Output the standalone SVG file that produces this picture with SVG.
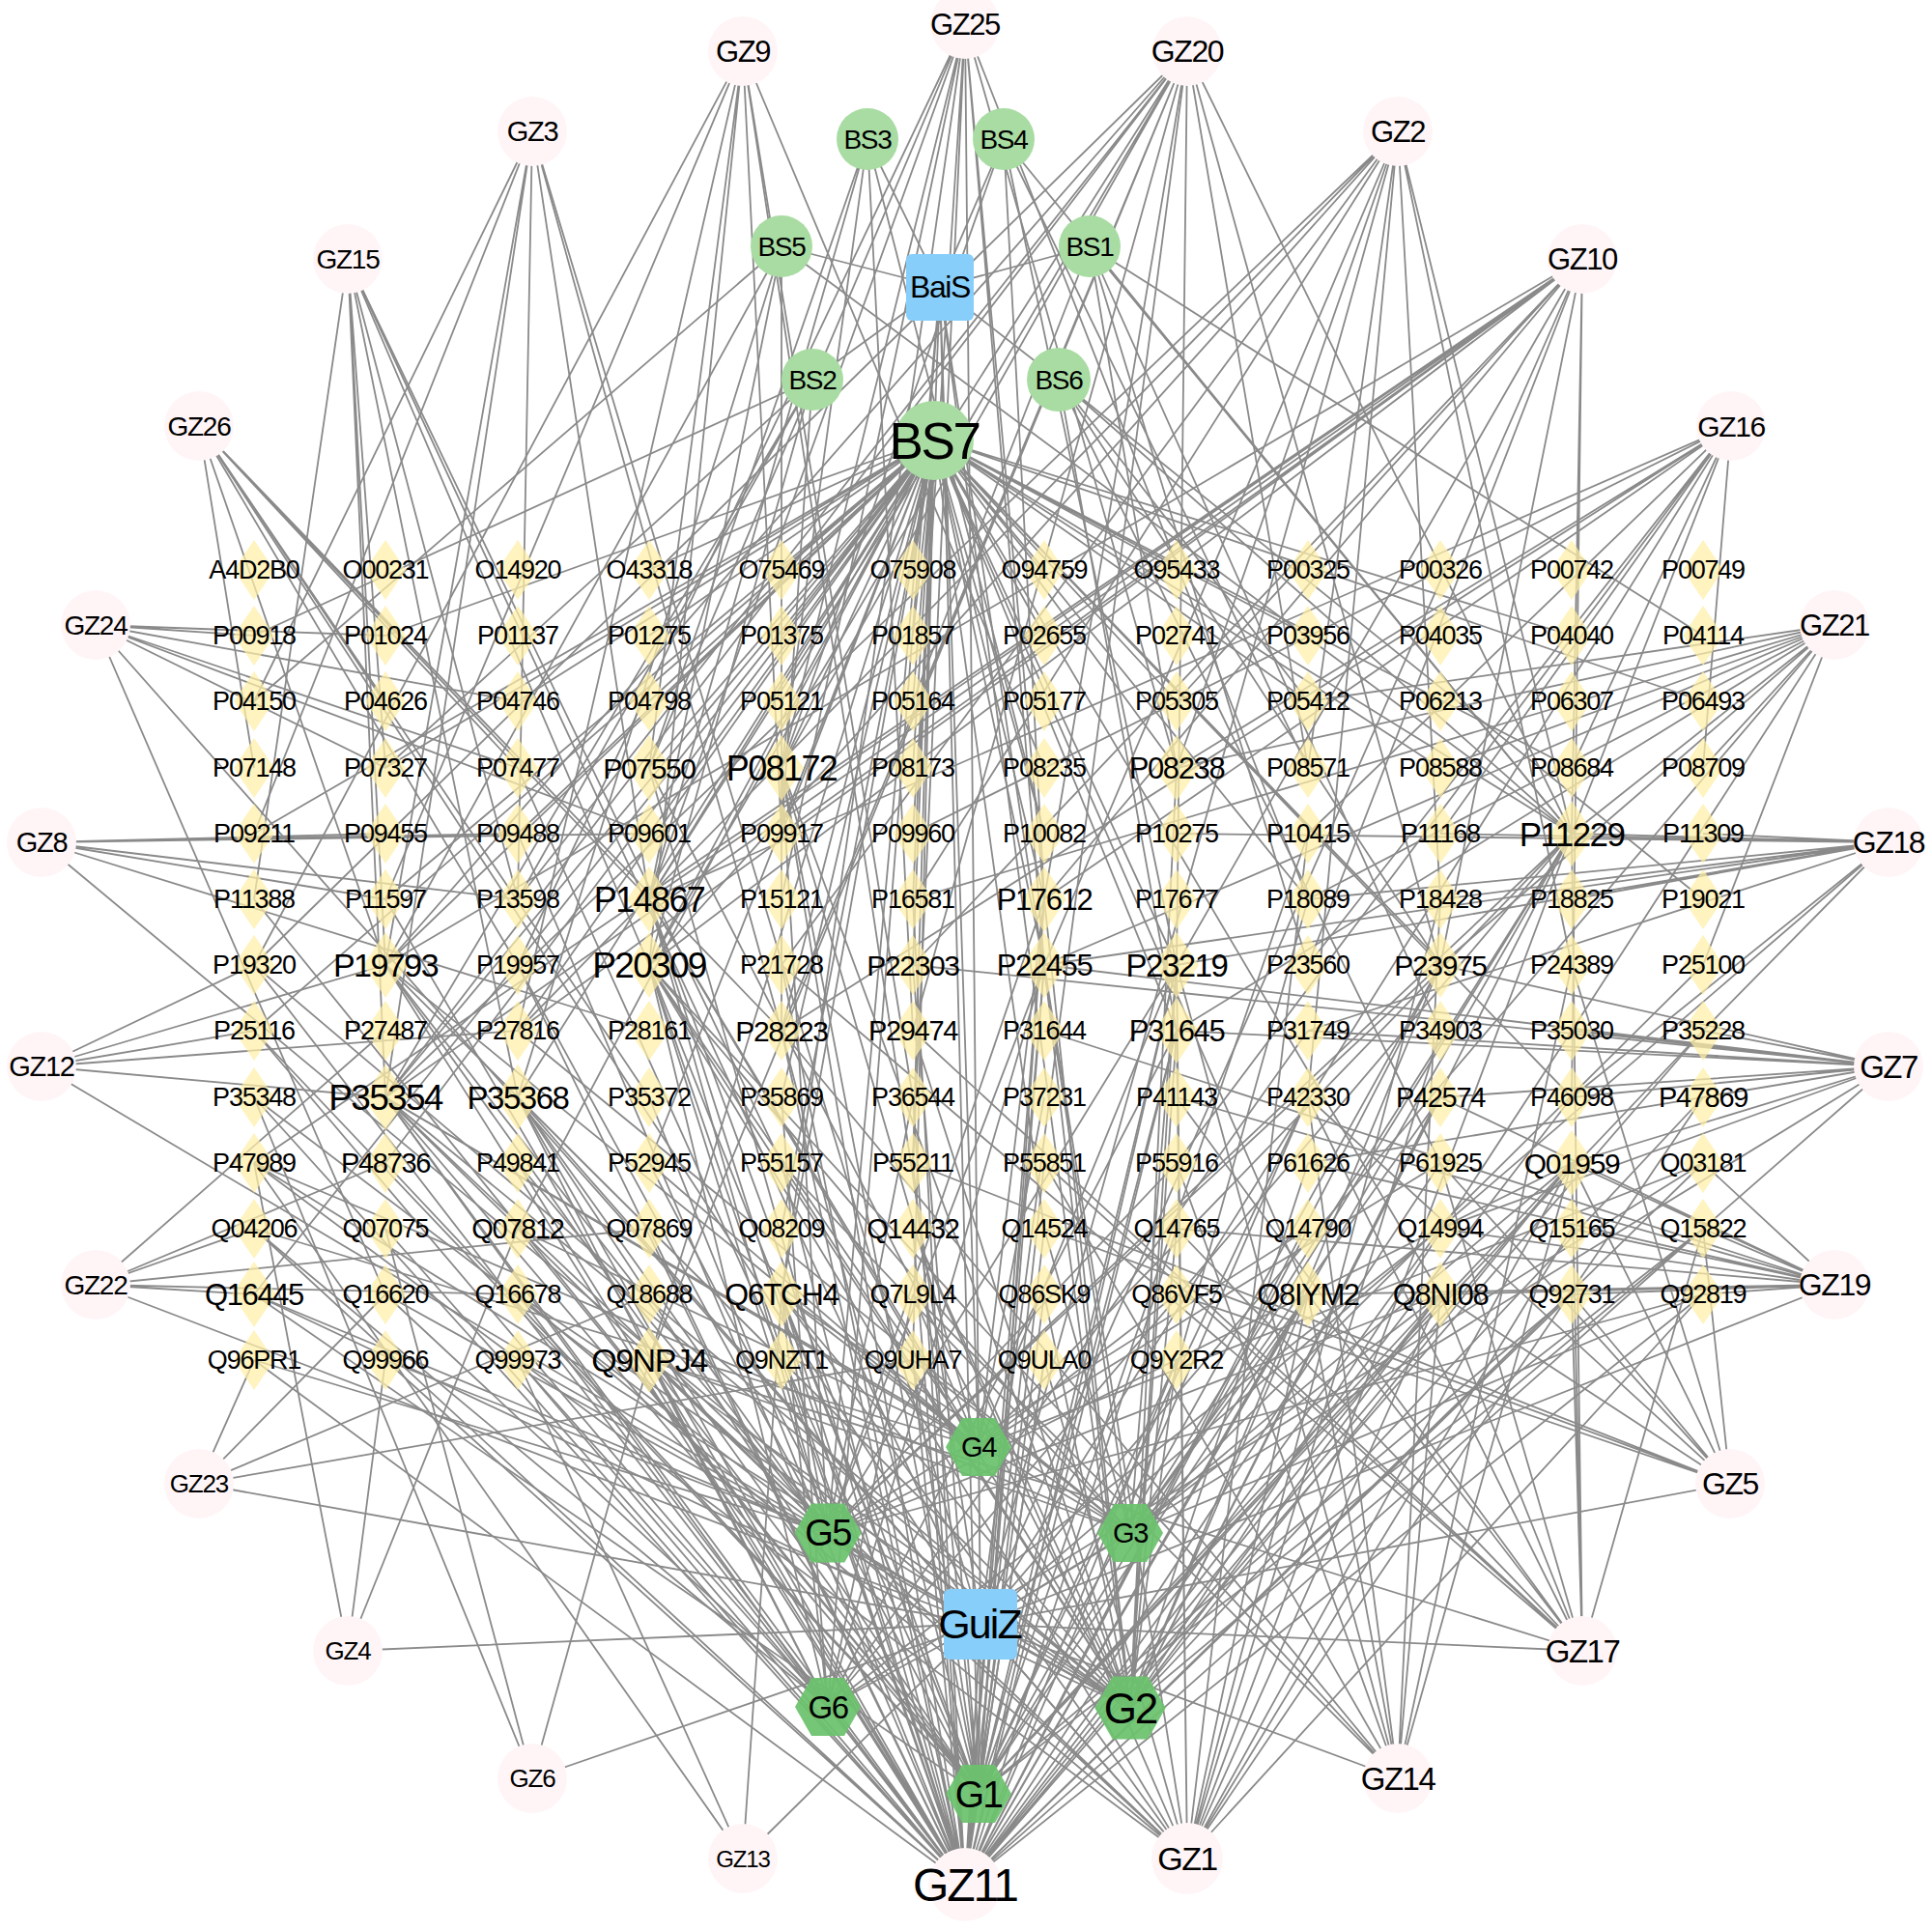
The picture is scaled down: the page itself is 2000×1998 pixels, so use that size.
<svg xmlns="http://www.w3.org/2000/svg" xmlns:xlink="http://www.w3.org/1999/xlink" width="2000" height="1998" viewBox="0 0 2000 1998">
<style>
.e{stroke:#8a8a8a;stroke-width:1.8;fill:none}
.gz{fill:#fff5f7}
.bs{fill:#a8dca2}
.g{fill:#6cc26e;fill-opacity:.93}
.h{fill:#87cefa}
.d{fill:#ffefa6;fill-opacity:.72}
text{font-family:"Liberation Sans",Arial,sans-serif;text-anchor:middle;dominant-baseline:central;fill:#000;letter-spacing:-0.045em}
</style>
<defs>
<polygon id="dm" class="d" points="0,-31 21,0 0,31 -21,0"/>
<polygon id="dmL" class="d" points="0,-34 23,0 0,34 -23,0"/>
<polygon id="hx" class="g" points="-34,0 -17,-30 17,-30 34,0 17,30 -17,30"/>
</defs>
<rect width="2000" height="1998" fill="#fff"/>
<g id="connectors">
<path id="e-BS7" class="e" d="M967 454L809 590M967 454L945 590M967 454L1081 590M967 454L1218 590M967 454L672 590M967 454L399 658M967 454L672 658M967 454L809 658M967 454L945 658M967 454L1081 658M967 454L1354 658M967 454L1627 658M967 454L536 726M967 454L672 726M967 454L809 726M967 454L945 726M967 454L1218 726M967 454L1354 726M967 454L1763 726M967 454L399 795M967 454L672 795M967 454L809 795M967 454L945 795M967 454L1218 795M967 454L1491 795M967 454L1627 795M967 454L263 863M967 454L536 863M967 454L672 863M967 454L809 863M967 454L1081 863M967 454L1627 863M967 454L399 931M967 454L672 931M967 454L945 931M967 454L1081 931M967 454L1354 931M967 454L399 999M967 454L672 999M967 454L945 999M967 454L1081 999M967 454L1218 999M967 454L1491 999M967 454L263 1067M967 454L536 1067M967 454L809 1067M967 454L1218 1067M967 454L399 1136M967 454L536 1136M967 454L809 1136M967 454L1627 1136M967 454L399 1204M967 454L672 1204M967 454L945 1204M967 454L536 1272M967 454L809 1272M967 454L1081 1272M967 454L263 1340M967 454L809 1340M967 454L1354 1340M967 454L1491 1340M967 454L672 1408M967 454L945 1408"/>
<path id="e-BS1" class="e" d="M1128 255L1218 795M1128 255L1627 863M1128 255L1354 999M1128 255L945 726M1128 255L1491 1067M1128 255L1763 658"/>
<path id="e-BS2" class="e" d="M841 393L263 658M841 393L399 795M841 393L536 931M841 393L672 999M841 393L399 1136M841 393L809 863"/>
<path id="e-BS3" class="e" d="M898 144L672 795M898 144L809 795M898 144L1081 863M898 144L672 931M898 144L945 1067"/>
<path id="e-BS4" class="e" d="M1039 144L809 795M1039 144L1354 795M1039 144L1218 999M1039 144L1627 863M1039 144L1081 931"/>
<path id="e-BS5" class="e" d="M809 255L263 726M809 255L399 999M809 255L536 1136M809 255L672 931M809 255L809 1067M809 255L1627 863"/>
<path id="e-BS6" class="e" d="M1096 393L1354 726M1096 393L1627 863M1096 393L1491 999M1096 393L1763 931M1096 393L1218 1067M1096 393L1491 1204"/>
<path id="e-BaiS" class="e" d="M973 297L1128 255M973 297L841 393M973 297L898 144M973 297L1039 144M973 297L809 255M973 297L1096 393M973 297L967 454M973 297L1013 1857M973 297L1170 1768M973 297L1170 1587M973 297L1013 1498M973 297L857 1587M973 297L857 1767"/>
<path id="e-G1" class="e" d="M1013 1857L263 1067M1013 1857L399 999M1013 1857L399 1136M1013 1857L536 1136M1013 1857L672 931M1013 1857L672 999M1013 1857L672 1408M1013 1857L809 795M1013 1857L809 1340M1013 1857L945 1204M1013 1857L945 999M1013 1857L1081 931M1013 1857L1081 999M1013 1857L1218 999M1013 1857L1218 1067M1013 1857L1354 1340M1013 1857L1491 1340M1013 1857L1491 999M1013 1857L1627 863M1013 1857L1627 1204M1013 1857L263 1340M1013 1857L536 1272M1013 1857L809 1067M1013 1857L1081 1272M1013 1857L1354 1136M1013 1857L1763 1067M1013 1857L1763 1272M1013 1857L399 1204M1013 1857L672 1204M1013 1857L1218 1408M1013 1857L1081 1408M1013 1857L945 1408M1013 1857L1627 1340M1013 1857L1354 863M1013 1857L536 795M1013 1857L263 931"/>
<path id="e-G2" class="e" d="M1170 1768L263 999M1170 1768L399 999M1170 1768L399 1136M1170 1768L536 1136M1170 1768L672 795M1170 1768L672 931M1170 1768L672 999M1170 1768L672 1408M1170 1768L809 795M1170 1768L809 1340M1170 1768L945 1067M1170 1768L1081 931M1170 1768L1081 999M1170 1768L1218 795M1170 1768L1218 999M1170 1768L1218 1067M1170 1768L1354 1340M1170 1768L1491 1340M1170 1768L1491 999M1170 1768L1627 863M1170 1768L1627 1204M1170 1768L263 1340M1170 1768L536 1340M1170 1768L809 1204M1170 1768L945 1272M1170 1768L1081 1340M1170 1768L1218 1272M1170 1768L1354 1204M1170 1768L1491 1136M1170 1768L1627 1067M1170 1768L1763 1136M1170 1768L263 1204M1170 1768L536 1408M1170 1768L809 1408M1170 1768L1218 1408M1170 1768L399 1340M1170 1768L1763 1272"/>
<path id="e-G5" class="e" d="M857 1587L263 1136M857 1587L399 999M857 1587L399 1136M857 1587L536 1136M857 1587L672 931M857 1587L672 999M857 1587L672 1408M857 1587L809 795M857 1587L809 1340M857 1587L1081 931M857 1587L1081 999M857 1587L1218 999M857 1587L1491 999M857 1587L1627 863M857 1587L263 1340M857 1587L536 1204M857 1587L399 1408M857 1587L945 1136M857 1587L1354 1272M857 1587L1491 1340M857 1587L1627 1204M857 1587L1763 1340M857 1587L263 1408M857 1587L536 999M857 1587L1218 1204"/>
<path id="e-G6" class="e" d="M857 1767L399 1136M857 1767L536 1136M857 1767L672 999M857 1767L672 1408M857 1767L809 1340M857 1767L263 1272M857 1767L399 1340M857 1767L1081 999M857 1767L1218 1067M857 1767L1627 863M857 1767L1491 1272M857 1767L536 1408M857 1767L945 1340M857 1767L1354 1067M857 1767L263 1067M857 1767L809 1136M857 1767L1763 1204"/>
<path id="e-G3" class="e" d="M1170 1587L399 1136M1170 1587L672 999M1170 1587L672 1408M1170 1587L809 1340M1170 1587L1218 999M1170 1587L1354 1340M1170 1587L1491 1340M1170 1587L1627 863M1170 1587L1627 1204M1170 1587L1763 1340M1170 1587L1491 1136M1170 1587L1081 1272M1170 1587L945 1408M1170 1587L263 1204M1170 1587L536 1067M1170 1587L1763 999M1170 1587L1354 931M1170 1587L809 1204"/>
<path id="e-G4" class="e" d="M1013 1498L399 999M1013 1498L672 931M1013 1498L672 999M1013 1498L809 795M1013 1498L809 1340M1013 1498L1081 931M1013 1498L1218 999M1013 1498L1627 863M1013 1498L399 1136M1013 1498L536 1272M1013 1498L945 1340M1013 1498L1218 1340M1013 1498L1491 1204M1013 1498L1763 1204M1013 1498L672 1204M1013 1498L263 1272M1013 1498L1081 1136"/>
<path id="e-GZ11" class="e" d="M999 1951L263 999M999 1951L263 1136M999 1951L263 1272M999 1951L263 1408M999 1951L399 931M999 1951L399 999M999 1951L399 1136M999 1951L399 1272M999 1951L399 1408M999 1951L536 863M999 1951L536 999M999 1951L536 1136M999 1951L536 1204M999 1951L536 1340M999 1951L536 1408M999 1951L672 795M999 1951L672 931M999 1951L672 999M999 1951L672 1136M999 1951L672 1272M999 1951L672 1408M999 1951L809 795M999 1951L809 999M999 1951L809 1067M999 1951L809 1204M999 1951L809 1340M999 1951L809 1408M999 1951L945 931M999 1951L945 1136M999 1951L945 1272M999 1951L945 1408M999 1951L1081 931M999 1951L1081 999M999 1951L1081 1204M999 1951L1081 1340M999 1951L1081 1408M999 1951L1218 999M999 1951L1218 1067M999 1951L1218 1272M999 1951L1218 1408M999 1951L1354 1136M999 1951L1354 1340M999 1951L1491 999M999 1951L1491 1204M999 1951L1491 1340M999 1951L1627 863M999 1951L1627 1136M999 1951L1627 1204M999 1951L1627 1340M999 1951L1763 1067M999 1951L1763 1272M999 1951L1763 1340M999 1951L1354 1272M999 1951L1491 1272M999 1951L1763 1204"/>
<path id="e-GZ1" class="e" d="M1229 1924L263 1204M1229 1924L399 1136M1229 1924L536 1136M1229 1924L672 999M1229 1924L672 1408M1229 1924L809 1340M1229 1924L1081 999M1229 1924L1218 999M1229 1924L1218 1067M1229 1924L1354 1340M1229 1924L1491 1340M1229 1924L1627 1204M1229 1924L1627 863M1229 1924L1763 1136M1229 1924L1491 1067M1229 1924L945 1272M1229 1924L1354 863M1229 1924L1763 1340M1229 1924L1081 1408M1229 1924L536 1340M1229 1924L1627 1272M1229 1924L1491 931"/>
<path id="e-GZ13" class="e" d="M769 1924L536 1408M769 1924L809 1340M769 1924L263 1204"/>
<path id="e-GZ6" class="e" d="M551 1841L399 1272M551 1841L672 1408M551 1841L263 1136"/>
<path id="e-GZ4" class="e" d="M360 1709L399 1408M360 1709L263 1204M360 1709L536 1272"/>
<path id="e-GZ23" class="e" d="M206 1536L263 1408M206 1536L399 1340M206 1536L672 1340M206 1536L945 1408"/>
<path id="e-GZ22" class="e" d="M99 1330L263 1272M99 1330L399 1204M99 1330L399 1067M99 1330L536 1340M99 1330L263 1340M99 1330L672 1272"/>
<path id="e-GZ12" class="e" d="M43 1104L263 1067M43 1104L399 999M43 1104L399 1136M43 1104L263 999M43 1104L536 1067"/>
<path id="e-GZ8" class="e" d="M43 872L399 863M43 872L536 863M43 872L672 863M43 872L399 931M43 872L536 931M43 872L672 1067"/>
<path id="e-GZ24" class="e" d="M99 647L399 658M99 647L536 726M99 647L399 795M99 647L536 795M99 647L672 863M99 647L263 658M99 647L399 1340"/>
<path id="e-GZ26" class="e" d="M206 441L399 726M206 441L536 795M206 441L672 931M206 441L399 999M206 441L536 999M206 441L672 1136M206 441L809 1067M206 441L263 795"/>
<path id="e-GZ15" class="e" d="M360 268L399 795M360 268L399 999M360 268L536 931M360 268L399 1136M360 268L672 999M360 268L263 931M360 268L536 1136M360 268L809 1204"/>
<path id="e-GZ3" class="e" d="M551 136L263 863M551 136L399 999M551 136L536 931M551 136L672 931M551 136L809 1067M551 136L399 1136M551 136L263 726"/>
<path id="e-GZ9" class="e" d="M769 53L263 999M769 53L399 931M769 53L536 1067M769 53L672 999M769 53L672 795M769 53L809 863M769 53L1081 795M769 53L945 1136"/>
<path id="e-GZ25" class="e" d="M999 25L672 795M999 25L672 931M999 25L809 795M999 25L809 931M999 25L945 863M999 25L1081 931M999 25L1081 999M999 25L1218 795M999 25L1354 931M999 25L536 999M999 25L945 1204M999 25L809 1340"/>
<path id="e-GZ20" class="e" d="M1229 53L263 999M1229 53L399 999M1229 53L536 931M1229 53L672 931M1229 53L672 999M1229 53L809 795M1229 53L809 1067M1229 53L945 1067M1229 53L1081 931M1229 53L1218 999M1229 53L1354 795M1229 53L1491 999M1229 53L1627 863M1229 53L399 1136M1229 53L672 1408"/>
<path id="e-GZ2" class="e" d="M1447 136L536 1067M1447 136L672 999M1447 136L809 999M1447 136L945 931M1447 136L1081 999M1447 136L1218 795M1447 136L1354 795M1447 136L1491 931M1447 136L1627 863M1447 136L1627 999M1447 136L399 1136M1447 136L1354 1136"/>
<path id="e-GZ10" class="e" d="M1638 268L399 999M1638 268L536 1067M1638 268L672 931M1638 268L672 999M1638 268L809 863M1638 268L945 999M1638 268L1081 931M1638 268L1218 999M1638 268L1354 999M1638 268L1491 999M1638 268L1627 863M1638 268L1627 1136M1638 268L399 1136M1638 268L263 1204M1638 268L1218 726"/>
<path id="e-GZ16" class="e" d="M1792 441L672 931M1792 441L945 863M1792 441L1081 931M1792 441L1218 795M1792 441L1354 863M1792 441L1491 863M1792 441L1627 795M1792 441L1627 863M1792 441L1763 795M1792 441L1354 999M1792 441L809 1067M1792 441L1218 1204"/>
<path id="e-GZ21" class="e" d="M1899 647L1218 795M1899 647L1354 726M1899 647L1491 795M1899 647L1627 863M1899 647L1354 931M1899 647L1491 999M1899 647L1081 999M1899 647L1763 795M1899 647L1627 1067M1899 647L1218 1067M1899 647L945 931M1899 647L1763 999"/>
<path id="e-GZ18" class="e" d="M1955 872L1218 863M1955 872L1354 931M1955 872L1491 863M1955 872L1627 863M1955 872L1763 863M1955 872L1491 931M1955 872L1627 931M1955 872L1081 999M1955 872L1354 1067M1955 872L1763 1067M1955 872L1627 1136M1955 872L1218 999"/>
<path id="e-GZ7" class="e" d="M1955 1104L1081 999M1955 1104L1218 1067M1955 1104L1354 1067M1955 1104L1491 999M1955 1104L1627 1067M1955 1104L1763 1067M1955 1104L1491 1136M1955 1104L1627 1136M1955 1104L1763 1136M1955 1104L1354 1204M1955 1104L1627 1204M1955 1104L1491 1272M1955 1104L1763 1272M1955 1104L945 999"/>
<path id="e-GZ19" class="e" d="M1899 1330L1218 1136M1899 1330L1354 1204M1899 1330L1491 1136M1899 1330L1627 1204M1899 1330L1763 1204M1899 1330L1491 1272M1899 1330L1627 1272M1899 1330L1763 1272M1899 1330L1354 1340M1899 1330L1491 1340M1899 1330L1627 1340M1899 1330L1763 1340M1899 1330L1218 1272M1899 1330L1081 1067"/>
<path id="e-GZ5" class="e" d="M1791 1536L1354 1136M1791 1536L1491 1204M1791 1536L1627 1204M1791 1536L1491 1340M1791 1536L1763 1272M1791 1536L1218 1340M1791 1536L1627 1340M1791 1536L1081 1272M1791 1536L945 1204M1791 1536L1627 999"/>
<path id="e-GZ17" class="e" d="M1638 1709L1081 1204M1638 1709L1218 1136M1638 1709L1354 1136M1638 1709L1491 1204M1638 1709L1627 1204M1638 1709L1491 1340M1638 1709L1627 1340M1638 1709L1763 1272M1638 1709L1218 1272M1638 1709L1354 1340M1638 1709L1627 863M1638 1709L945 1067M1638 1709L809 999M1638 1709L672 1408"/>
<path id="e-GZ14" class="e" d="M1447 1841L672 999M1447 1841L809 1067M1447 1841L1081 1204M1447 1841L1218 1204M1447 1841L1354 1136M1447 1841L1354 1340M1447 1841L1491 1340M1447 1841L1627 1204M1447 1841L1627 999M1447 1841L945 1340M1447 1841L1491 931M1447 1841L1218 999"/>
<path id="e-GuiZ" class="e" d="M1015 1681L1013 1857M1015 1681L1170 1768M1015 1681L1170 1587M1015 1681L1013 1498M1015 1681L857 1587M1015 1681L857 1767M1015 1681L999 25M1015 1681L1229 53M1015 1681L1447 136M1015 1681L1638 268M1015 1681L1792 441M1015 1681L1899 647M1015 1681L1955 872M1015 1681L1955 1104M1015 1681L1899 1330M1015 1681L1791 1536M1015 1681L1638 1709M1015 1681L1447 1841M1015 1681L1229 1924M1015 1681L999 1951M1015 1681L769 1924M1015 1681L551 1841M1015 1681L360 1709M1015 1681L206 1536M1015 1681L99 1330M1015 1681L43 1104M1015 1681L43 872M1015 1681L99 647M1015 1681L206 441M1015 1681L360 268M1015 1681L551 136M1015 1681L769 53"/>
</g>
<g id="nodes" font-size="27">
<g id="GZ25"><circle class="gz" cx="999" cy="25" r="36"/><text x="999" y="25" font-size="31">GZ25</text></g>
<g id="GZ20"><circle class="gz" cx="1229" cy="53" r="36"/><text x="1229" y="53" font-size="32">GZ20</text></g>
<g id="GZ2"><circle class="gz" cx="1447" cy="136" r="36"/><text x="1447" y="136" font-size="31">GZ2</text></g>
<g id="GZ10"><circle class="gz" cx="1638" cy="268" r="36"/><text x="1638" y="268" font-size="31">GZ10</text></g>
<g id="GZ16"><circle class="gz" cx="1792" cy="441" r="36"/><text x="1792" y="441" font-size="30">GZ16</text></g>
<g id="GZ21"><circle class="gz" cx="1899" cy="647" r="36"/><text x="1899" y="647" font-size="31">GZ21</text></g>
<g id="GZ18"><circle class="gz" cx="1955" cy="872" r="36"/><text x="1955" y="872" font-size="32">GZ18</text></g>
<g id="GZ7"><circle class="gz" cx="1955" cy="1104" r="36"/><text x="1955" y="1104" font-size="33">GZ7</text></g>
<g id="GZ19"><circle class="gz" cx="1899" cy="1330" r="36"/><text x="1899" y="1330" font-size="32">GZ19</text></g>
<g id="GZ5"><circle class="gz" cx="1791" cy="1536" r="36"/><text x="1791" y="1536" font-size="32">GZ5</text></g>
<g id="GZ17"><circle class="gz" cx="1638" cy="1709" r="36"/><text x="1638" y="1709" font-size="33">GZ17</text></g>
<g id="GZ14"><circle class="gz" cx="1447" cy="1841" r="36"/><text x="1447" y="1841" font-size="33">GZ14</text></g>
<g id="GZ1"><circle class="gz" cx="1229" cy="1924" r="37"/><text x="1229" y="1924" font-size="34">GZ1</text></g>
<g id="GZ11"><circle class="gz" cx="999" cy="1951" r="38"/><text x="999" y="1951" font-size="48">GZ11</text></g>
<g id="GZ13"><circle class="gz" cx="769" cy="1924" r="36"/><text x="769" y="1924" font-size="24">GZ13</text></g>
<g id="GZ6"><circle class="gz" cx="551" cy="1841" r="36"/><text x="551" y="1841" font-size="26">GZ6</text></g>
<g id="GZ4"><circle class="gz" cx="360" cy="1709" r="36"/><text x="360" y="1709" font-size="26">GZ4</text></g>
<g id="GZ23"><circle class="gz" cx="206" cy="1536" r="36"/><text x="206" y="1536" font-size="26">GZ23</text></g>
<g id="GZ22"><circle class="gz" cx="99" cy="1330" r="36"/><text x="99" y="1330" font-size="28">GZ22</text></g>
<g id="GZ12"><circle class="gz" cx="43" cy="1104" r="36"/><text x="43" y="1104" font-size="29">GZ12</text></g>
<g id="GZ8"><circle class="gz" cx="43" cy="872" r="36"/><text x="43" y="872" font-size="29">GZ8</text></g>
<g id="GZ24"><circle class="gz" cx="99" cy="647" r="36"/><text x="99" y="647" font-size="28">GZ24</text></g>
<g id="GZ26"><circle class="gz" cx="206" cy="441" r="36"/><text x="206" y="441" font-size="28">GZ26</text></g>
<g id="GZ15"><circle class="gz" cx="360" cy="268" r="36"/><text x="360" y="268" font-size="28">GZ15</text></g>
<g id="GZ3"><circle class="gz" cx="551" cy="136" r="36"/><text x="551" y="136" font-size="29">GZ3</text></g>
<g id="GZ9"><circle class="gz" cx="769" cy="53" r="36"/><text x="769" y="53" font-size="31">GZ9</text></g>
<g id="BS3"><circle class="bs" cx="898" cy="144" r="32"/><text x="898" y="144" font-size="28">BS3</text></g>
<g id="BS4"><circle class="bs" cx="1039" cy="144" r="32"/><text x="1039" y="144" font-size="28">BS4</text></g>
<g id="BS5"><circle class="bs" cx="809" cy="255" r="32"/><text x="809" y="255" font-size="28">BS5</text></g>
<g id="BS1"><circle class="bs" cx="1128" cy="255" r="32"/><text x="1128" y="255" font-size="28">BS1</text></g>
<g id="BS2"><circle class="bs" cx="841" cy="393" r="32"/><text x="841" y="393" font-size="28">BS2</text></g>
<g id="BS6"><circle class="bs" cx="1096" cy="393" r="33"/><text x="1096" y="393" font-size="28">BS6</text></g>
<g id="BS7"><circle class="bs" cx="967" cy="456" r="41"/><text x="967" y="456" font-size="53">BS7</text></g>
<g id="BaiS"><rect class="h" x="938" y="263" width="70" height="69" rx="6"/><text x="973" y="297" font-size="32">BaiS</text></g>
<g id="GuiZ"><rect class="h" x="977" y="1645" width="76" height="73" rx="6"/><text x="1014" y="1681" font-size="43">GuiZ</text></g>
<g id="G4"><use href="#hx" x="1013" y="1498"/><text x="1013" y="1498" font-size="29">G4</text></g>
<g id="G5"><use href="#hx" transform="translate(857 1587) scale(1.02)"/><text x="857" y="1587" font-size="38">G5</text></g>
<g id="G3"><use href="#hx" x="1170" y="1587"/><text x="1170" y="1587" font-size="29">G3</text></g>
<g id="G6"><use href="#hx" x="857" y="1767"/><text x="857" y="1767" font-size="33">G6</text></g>
<g id="G2"><use href="#hx" transform="translate(1170 1768) scale(1.08)"/><text x="1170" y="1768" font-size="44">G2</text></g>
<g id="G1"><use href="#hx" x="1013" y="1857"/><text x="1013" y="1857" font-size="39">G1</text></g>
<g id="A4D2B0"><use href="#dm" x="263" y="590"/><text x="263" y="590">A4D2B0</text></g>
<g id="O00231"><use href="#dm" x="399" y="590"/><text x="399" y="590">O00231</text></g>
<g id="O14920"><use href="#dm" x="536" y="590"/><text x="536" y="590">O14920</text></g>
<g id="O43318"><use href="#dm" x="672" y="590"/><text x="672" y="590">O43318</text></g>
<g id="O75469"><use href="#dm" x="809" y="590"/><text x="809" y="590">O75469</text></g>
<g id="O75908"><use href="#dm" x="945" y="590"/><text x="945" y="590">O75908</text></g>
<g id="O94759"><use href="#dm" x="1081" y="590"/><text x="1081" y="590">O94759</text></g>
<g id="O95433"><use href="#dm" x="1218" y="590"/><text x="1218" y="590">O95433</text></g>
<g id="P00325"><use href="#dm" x="1354" y="590"/><text x="1354" y="590">P00325</text></g>
<g id="P00326"><use href="#dm" x="1491" y="590"/><text x="1491" y="590">P00326</text></g>
<g id="P00742"><use href="#dm" x="1627" y="590"/><text x="1627" y="590">P00742</text></g>
<g id="P00749"><use href="#dm" x="1763" y="590"/><text x="1763" y="590">P00749</text></g>
<g id="P00918"><use href="#dm" x="263" y="658"/><text x="263" y="658">P00918</text></g>
<g id="P01024"><use href="#dm" x="399" y="658"/><text x="399" y="658">P01024</text></g>
<g id="P01137"><use href="#dm" x="536" y="658"/><text x="536" y="658">P01137</text></g>
<g id="P01275"><use href="#dm" x="672" y="658"/><text x="672" y="658">P01275</text></g>
<g id="P01375"><use href="#dm" x="809" y="658"/><text x="809" y="658">P01375</text></g>
<g id="P01857"><use href="#dm" x="945" y="658"/><text x="945" y="658">P01857</text></g>
<g id="P02655"><use href="#dm" x="1081" y="658"/><text x="1081" y="658">P02655</text></g>
<g id="P02741"><use href="#dm" x="1218" y="658"/><text x="1218" y="658">P02741</text></g>
<g id="P03956"><use href="#dm" x="1354" y="658"/><text x="1354" y="658">P03956</text></g>
<g id="P04035"><use href="#dm" x="1491" y="658"/><text x="1491" y="658">P04035</text></g>
<g id="P04040"><use href="#dm" x="1627" y="658"/><text x="1627" y="658">P04040</text></g>
<g id="P04114"><use href="#dm" x="1763" y="658"/><text x="1763" y="658">P04114</text></g>
<g id="P04150"><use href="#dm" x="263" y="726"/><text x="263" y="726">P04150</text></g>
<g id="P04626"><use href="#dm" x="399" y="726"/><text x="399" y="726">P04626</text></g>
<g id="P04746"><use href="#dm" x="536" y="726"/><text x="536" y="726">P04746</text></g>
<g id="P04798"><use href="#dm" x="672" y="726"/><text x="672" y="726">P04798</text></g>
<g id="P05121"><use href="#dm" x="809" y="726"/><text x="809" y="726">P05121</text></g>
<g id="P05164"><use href="#dm" x="945" y="726"/><text x="945" y="726">P05164</text></g>
<g id="P05177"><use href="#dm" x="1081" y="726"/><text x="1081" y="726">P05177</text></g>
<g id="P05305"><use href="#dm" x="1218" y="726"/><text x="1218" y="726">P05305</text></g>
<g id="P05412"><use href="#dm" x="1354" y="726"/><text x="1354" y="726">P05412</text></g>
<g id="P06213"><use href="#dm" x="1491" y="726"/><text x="1491" y="726">P06213</text></g>
<g id="P06307"><use href="#dm" x="1627" y="726"/><text x="1627" y="726">P06307</text></g>
<g id="P06493"><use href="#dm" x="1763" y="726"/><text x="1763" y="726">P06493</text></g>
<g id="P07148"><use href="#dm" x="263" y="795"/><text x="263" y="795">P07148</text></g>
<g id="P07327"><use href="#dm" x="399" y="795"/><text x="399" y="795">P07327</text></g>
<g id="P07477"><use href="#dm" x="536" y="795"/><text x="536" y="795">P07477</text></g>
<g id="P07550"><use href="#dmL" x="672" y="795"/><text x="672" y="795" font-size="30">P07550</text></g>
<g id="P08172"><use href="#dmL" x="809" y="795"/><text x="809" y="795" font-size="36">P08172</text></g>
<g id="P08173"><use href="#dm" x="945" y="795"/><text x="945" y="795">P08173</text></g>
<g id="P08235"><use href="#dm" x="1081" y="795"/><text x="1081" y="795">P08235</text></g>
<g id="P08238"><use href="#dmL" x="1218" y="795"/><text x="1218" y="795" font-size="31">P08238</text></g>
<g id="P08571"><use href="#dm" x="1354" y="795"/><text x="1354" y="795">P08571</text></g>
<g id="P08588"><use href="#dm" x="1491" y="795"/><text x="1491" y="795">P08588</text></g>
<g id="P08684"><use href="#dm" x="1627" y="795"/><text x="1627" y="795">P08684</text></g>
<g id="P08709"><use href="#dm" x="1763" y="795"/><text x="1763" y="795">P08709</text></g>
<g id="P09211"><use href="#dm" x="263" y="863"/><text x="263" y="863">P09211</text></g>
<g id="P09455"><use href="#dm" x="399" y="863"/><text x="399" y="863">P09455</text></g>
<g id="P09488"><use href="#dm" x="536" y="863"/><text x="536" y="863">P09488</text></g>
<g id="P09601"><use href="#dm" x="672" y="863"/><text x="672" y="863">P09601</text></g>
<g id="P09917"><use href="#dm" x="809" y="863"/><text x="809" y="863">P09917</text></g>
<g id="P09960"><use href="#dm" x="945" y="863"/><text x="945" y="863">P09960</text></g>
<g id="P10082"><use href="#dm" x="1081" y="863"/><text x="1081" y="863">P10082</text></g>
<g id="P10275"><use href="#dm" x="1218" y="863"/><text x="1218" y="863">P10275</text></g>
<g id="P10415"><use href="#dm" x="1354" y="863"/><text x="1354" y="863">P10415</text></g>
<g id="P11168"><use href="#dm" x="1491" y="863"/><text x="1491" y="863">P11168</text></g>
<g id="P11229"><use href="#dmL" x="1627" y="863"/><text x="1627" y="863" font-size="35">P11229</text></g>
<g id="P11309"><use href="#dm" x="1763" y="863"/><text x="1763" y="863">P11309</text></g>
<g id="P11388"><use href="#dm" x="263" y="931"/><text x="263" y="931">P11388</text></g>
<g id="P11597"><use href="#dm" x="399" y="931"/><text x="399" y="931">P11597</text></g>
<g id="P13598"><use href="#dm" x="536" y="931"/><text x="536" y="931">P13598</text></g>
<g id="P14867"><use href="#dmL" x="672" y="931"/><text x="672" y="931" font-size="36">P14867</text></g>
<g id="P15121"><use href="#dm" x="809" y="931"/><text x="809" y="931">P15121</text></g>
<g id="P16581"><use href="#dm" x="945" y="931"/><text x="945" y="931">P16581</text></g>
<g id="P17612"><use href="#dmL" x="1081" y="931"/><text x="1081" y="931" font-size="31">P17612</text></g>
<g id="P17677"><use href="#dm" x="1218" y="931"/><text x="1218" y="931">P17677</text></g>
<g id="P18089"><use href="#dm" x="1354" y="931"/><text x="1354" y="931">P18089</text></g>
<g id="P18428"><use href="#dm" x="1491" y="931"/><text x="1491" y="931">P18428</text></g>
<g id="P18825"><use href="#dm" x="1627" y="931"/><text x="1627" y="931">P18825</text></g>
<g id="P19021"><use href="#dm" x="1763" y="931"/><text x="1763" y="931">P19021</text></g>
<g id="P19320"><use href="#dm" x="263" y="999"/><text x="263" y="999">P19320</text></g>
<g id="P19793"><use href="#dmL" x="399" y="999"/><text x="399" y="999" font-size="34">P19793</text></g>
<g id="P19957"><use href="#dm" x="536" y="999"/><text x="536" y="999">P19957</text></g>
<g id="P20309"><use href="#dmL" x="672" y="999"/><text x="672" y="999" font-size="37">P20309</text></g>
<g id="P21728"><use href="#dm" x="809" y="999"/><text x="809" y="999">P21728</text></g>
<g id="P22303"><use href="#dm" x="945" y="999"/><text x="945" y="999" font-size="30">P22303</text></g>
<g id="P22455"><use href="#dmL" x="1081" y="999"/><text x="1081" y="999" font-size="31">P22455</text></g>
<g id="P23219"><use href="#dmL" x="1218" y="999"/><text x="1218" y="999" font-size="33">P23219</text></g>
<g id="P23560"><use href="#dm" x="1354" y="999"/><text x="1354" y="999">P23560</text></g>
<g id="P23975"><use href="#dmL" x="1491" y="999"/><text x="1491" y="999" font-size="30">P23975</text></g>
<g id="P24389"><use href="#dm" x="1627" y="999"/><text x="1627" y="999">P24389</text></g>
<g id="P25100"><use href="#dm" x="1763" y="999"/><text x="1763" y="999">P25100</text></g>
<g id="P25116"><use href="#dm" x="263" y="1067"/><text x="263" y="1067">P25116</text></g>
<g id="P27487"><use href="#dm" x="399" y="1067"/><text x="399" y="1067">P27487</text></g>
<g id="P27816"><use href="#dm" x="536" y="1067"/><text x="536" y="1067">P27816</text></g>
<g id="P28161"><use href="#dm" x="672" y="1067"/><text x="672" y="1067">P28161</text></g>
<g id="P28223"><use href="#dm" x="809" y="1067"/><text x="809" y="1067" font-size="30">P28223</text></g>
<g id="P29474"><use href="#dm" x="945" y="1067"/><text x="945" y="1067" font-size="29">P29474</text></g>
<g id="P31644"><use href="#dm" x="1081" y="1067"/><text x="1081" y="1067">P31644</text></g>
<g id="P31645"><use href="#dmL" x="1218" y="1067"/><text x="1218" y="1067" font-size="31">P31645</text></g>
<g id="P31749"><use href="#dm" x="1354" y="1067"/><text x="1354" y="1067">P31749</text></g>
<g id="P34903"><use href="#dm" x="1491" y="1067"/><text x="1491" y="1067">P34903</text></g>
<g id="P35030"><use href="#dm" x="1627" y="1067"/><text x="1627" y="1067">P35030</text></g>
<g id="P35228"><use href="#dm" x="1763" y="1067"/><text x="1763" y="1067">P35228</text></g>
<g id="P35348"><use href="#dm" x="263" y="1136"/><text x="263" y="1136">P35348</text></g>
<g id="P35354"><use href="#dmL" x="399" y="1136"/><text x="399" y="1136" font-size="37">P35354</text></g>
<g id="P35368"><use href="#dmL" x="536" y="1136"/><text x="536" y="1136" font-size="33">P35368</text></g>
<g id="P35372"><use href="#dm" x="672" y="1136"/><text x="672" y="1136">P35372</text></g>
<g id="P35869"><use href="#dm" x="809" y="1136"/><text x="809" y="1136">P35869</text></g>
<g id="P36544"><use href="#dm" x="945" y="1136"/><text x="945" y="1136">P36544</text></g>
<g id="P37231"><use href="#dm" x="1081" y="1136"/><text x="1081" y="1136">P37231</text></g>
<g id="P41143"><use href="#dm" x="1218" y="1136"/><text x="1218" y="1136">P41143</text></g>
<g id="P42330"><use href="#dm" x="1354" y="1136"/><text x="1354" y="1136">P42330</text></g>
<g id="P42574"><use href="#dm" x="1491" y="1136"/><text x="1491" y="1136" font-size="29">P42574</text></g>
<g id="P46098"><use href="#dm" x="1627" y="1136"/><text x="1627" y="1136">P46098</text></g>
<g id="P47869"><use href="#dm" x="1763" y="1136"/><text x="1763" y="1136" font-size="29">P47869</text></g>
<g id="P47989"><use href="#dm" x="263" y="1204"/><text x="263" y="1204">P47989</text></g>
<g id="P48736"><use href="#dm" x="399" y="1204"/><text x="399" y="1204" font-size="29">P48736</text></g>
<g id="P49841"><use href="#dm" x="536" y="1204"/><text x="536" y="1204">P49841</text></g>
<g id="P52945"><use href="#dm" x="672" y="1204"/><text x="672" y="1204">P52945</text></g>
<g id="P55157"><use href="#dm" x="809" y="1204"/><text x="809" y="1204">P55157</text></g>
<g id="P55211"><use href="#dm" x="945" y="1204"/><text x="945" y="1204">P55211</text></g>
<g id="P55851"><use href="#dm" x="1081" y="1204"/><text x="1081" y="1204">P55851</text></g>
<g id="P55916"><use href="#dm" x="1218" y="1204"/><text x="1218" y="1204">P55916</text></g>
<g id="P61626"><use href="#dm" x="1354" y="1204"/><text x="1354" y="1204">P61626</text></g>
<g id="P61925"><use href="#dm" x="1491" y="1204"/><text x="1491" y="1204">P61925</text></g>
<g id="Q01959"><use href="#dmL" x="1627" y="1204"/><text x="1627" y="1204" font-size="30">Q01959</text></g>
<g id="Q03181"><use href="#dm" x="1763" y="1204"/><text x="1763" y="1204">Q03181</text></g>
<g id="Q04206"><use href="#dm" x="263" y="1272"/><text x="263" y="1272">Q04206</text></g>
<g id="Q07075"><use href="#dm" x="399" y="1272"/><text x="399" y="1272">Q07075</text></g>
<g id="Q07812"><use href="#dm" x="536" y="1272"/><text x="536" y="1272" font-size="29">Q07812</text></g>
<g id="Q07869"><use href="#dm" x="672" y="1272"/><text x="672" y="1272">Q07869</text></g>
<g id="Q08209"><use href="#dm" x="809" y="1272"/><text x="809" y="1272">Q08209</text></g>
<g id="Q14432"><use href="#dm" x="945" y="1272"/><text x="945" y="1272" font-size="29">Q14432</text></g>
<g id="Q14524"><use href="#dm" x="1081" y="1272"/><text x="1081" y="1272">Q14524</text></g>
<g id="Q14765"><use href="#dm" x="1218" y="1272"/><text x="1218" y="1272">Q14765</text></g>
<g id="Q14790"><use href="#dm" x="1354" y="1272"/><text x="1354" y="1272">Q14790</text></g>
<g id="Q14994"><use href="#dm" x="1491" y="1272"/><text x="1491" y="1272">Q14994</text></g>
<g id="Q15165"><use href="#dm" x="1627" y="1272"/><text x="1627" y="1272">Q15165</text></g>
<g id="Q15822"><use href="#dm" x="1763" y="1272"/><text x="1763" y="1272">Q15822</text></g>
<g id="Q16445"><use href="#dmL" x="263" y="1340"/><text x="263" y="1340" font-size="31">Q16445</text></g>
<g id="Q16620"><use href="#dm" x="399" y="1340"/><text x="399" y="1340">Q16620</text></g>
<g id="Q16678"><use href="#dm" x="536" y="1340"/><text x="536" y="1340">Q16678</text></g>
<g id="Q18688"><use href="#dm" x="672" y="1340"/><text x="672" y="1340">Q18688</text></g>
<g id="Q6TCH4"><use href="#dmL" x="809" y="1340"/><text x="809" y="1340" font-size="32">Q6TCH4</text></g>
<g id="Q7L9L4"><use href="#dm" x="945" y="1340"/><text x="945" y="1340">Q7L9L4</text></g>
<g id="Q86SK9"><use href="#dm" x="1081" y="1340"/><text x="1081" y="1340">Q86SK9</text></g>
<g id="Q86VF5"><use href="#dm" x="1218" y="1340"/><text x="1218" y="1340">Q86VF5</text></g>
<g id="Q8IYM2"><use href="#dmL" x="1354" y="1340"/><text x="1354" y="1340" font-size="31">Q8IYM2</text></g>
<g id="Q8NI08"><use href="#dmL" x="1491" y="1340"/><text x="1491" y="1340" font-size="31">Q8NI08</text></g>
<g id="Q92731"><use href="#dm" x="1627" y="1340"/><text x="1627" y="1340">Q92731</text></g>
<g id="Q92819"><use href="#dm" x="1763" y="1340"/><text x="1763" y="1340">Q92819</text></g>
<g id="Q96PR1"><use href="#dm" x="263" y="1408"/><text x="263" y="1408">Q96PR1</text></g>
<g id="Q99966"><use href="#dm" x="399" y="1408"/><text x="399" y="1408">Q99966</text></g>
<g id="Q99973"><use href="#dm" x="536" y="1408"/><text x="536" y="1408">Q99973</text></g>
<g id="Q9NPJ4"><use href="#dmL" x="672" y="1408"/><text x="672" y="1408" font-size="34">Q9NPJ4</text></g>
<g id="Q9NZT1"><use href="#dm" x="809" y="1408"/><text x="809" y="1408">Q9NZT1</text></g>
<g id="Q9UHA7"><use href="#dm" x="945" y="1408"/><text x="945" y="1408">Q9UHA7</text></g>
<g id="Q9ULA0"><use href="#dm" x="1081" y="1408"/><text x="1081" y="1408">Q9ULA0</text></g>
<g id="Q9Y2R2"><use href="#dm" x="1218" y="1408"/><text x="1218" y="1408">Q9Y2R2</text></g>
</g>
</svg>
